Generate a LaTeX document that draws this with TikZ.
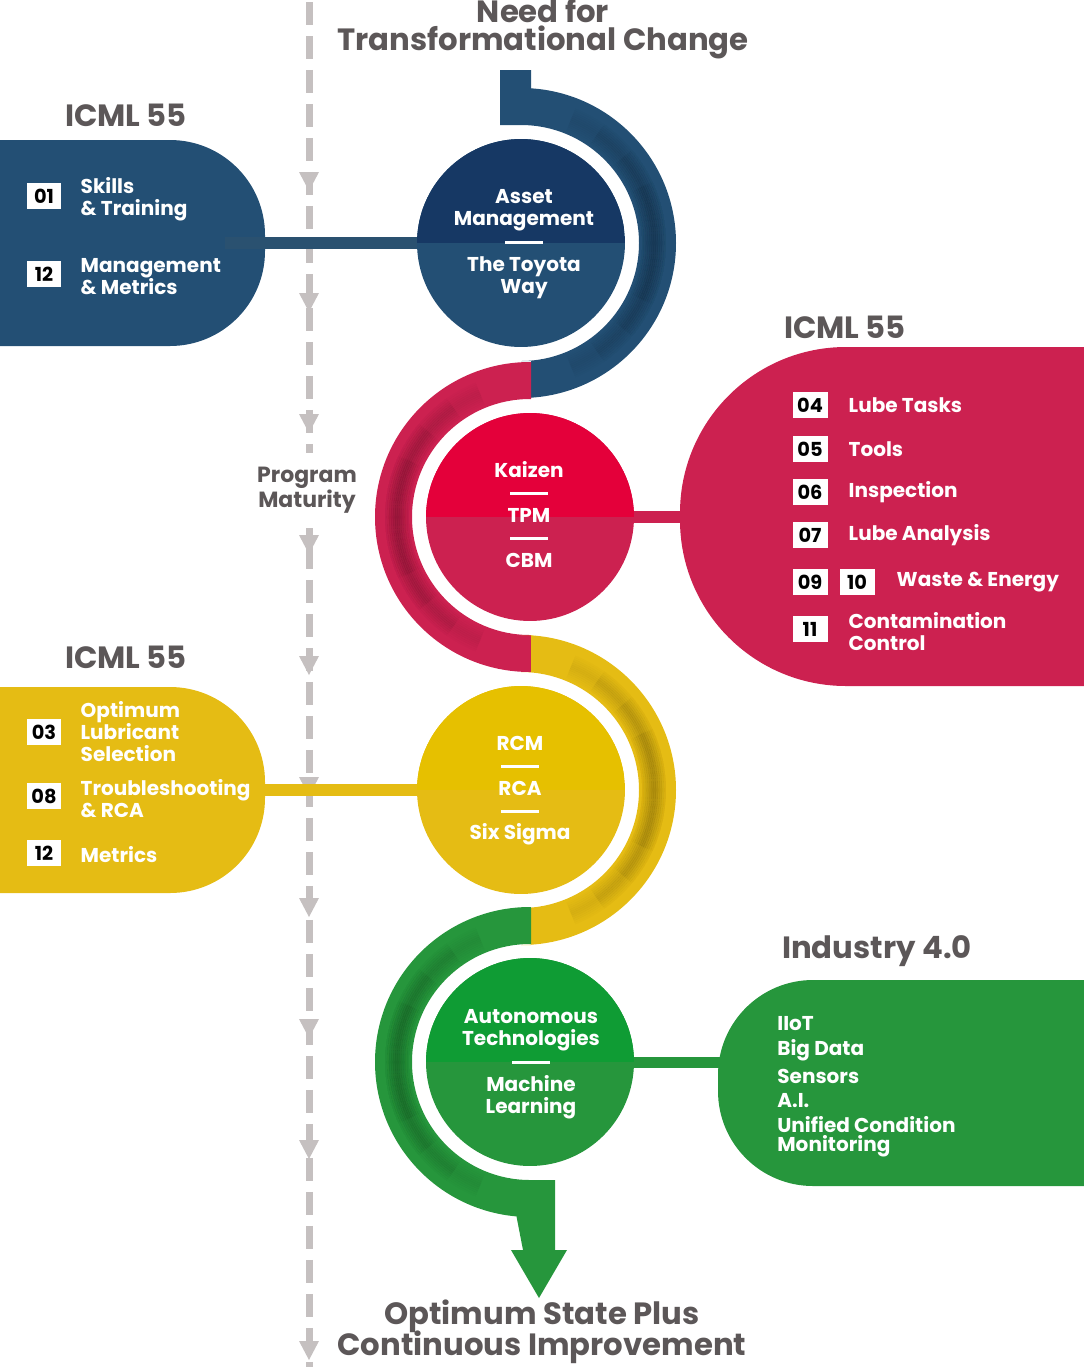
\documentclass[tikz,border=0pt]{standalone}
\usepackage{fontspec}
\setmainfont{Poppins}
\usetikzlibrary{positioning}

\definecolor{greytxt}{RGB}{92,87,88}
\definecolor{dashgrey}{RGB}{197,192,192}
\definecolor{navy}{RGB}{22,56,100}
\definecolor{steel}{RGB}{35,79,116}
\definecolor{steelbar}{RGB}{42,81,112}
\definecolor{kaizen}{RGB}{228,0,58}
\definecolor{crimson}{RGB}{204,33,80}
\definecolor{gold}{RGB}{230,192,0}
\definecolor{mustard}{RGB}{229,188,20}
\definecolor{leaf}{RGB}{15,156,52}
\definecolor{grass}{RGB}{38,150,60}

\tikzset{
  heading/.style={font=\fontsize{17.5}{16}\selectfont\bfseries, text=greytxt, align=center, inner sep=0pt},
  item/.style={anchor=west, font=\fontsize{11.4}{12.5}\selectfont\bfseries, text=white, align=left, inner sep=0pt},
  numbox/.style={fill=white, text=black, minimum width=0.7cm, minimum height=0.52cm, inner sep=0pt, font=\fontsize{11}{11}\selectfont\bfseries},
  disctext/.style={font=\fontsize{11.4}{12.5}\selectfont\bfseries, text=white, align=center, inner sep=0pt},
  disc/.style 2 args={circle, minimum size=4.16cm, inner sep=0pt, fill=#2,
    path picture={\fill[#1] (path picture bounding box.north west) rectangle (path picture bounding box.east);}},
  sepline/.style={white, line width=0.06cm},
  bar/.style={line width=0.25cm},
  bandshadow/.style={black, opacity=#1, line width=0.041cm}
}

\begin{document}
\begin{tikzpicture}[x=0.02cm, y=-0.02cm]
    \useasboundingbox (0,0) rectangle (1084,1367);

    % program maturity line
    \draw[dashgrey, line width=0.14cm, dash pattern=on 0.46cm off 0.22cm] (309,2) -- (309,1367);
    \foreach \t in {191,312,433,554,675,796,917,1038,1159,1360}
        \fill[dashgrey] (299,\t-19) -- (319,\t-19) -- (309,\t) -- cycle;
    \node[heading, fill=white, font=\fontsize{12.5}{11.4}\selectfont\bfseries, minimum height=1.5cm] (maturity) at (307,490) {Program\\Maturity};

    % ICML boxes
    \fill[steel] (0,140) -- (170,140) arc[start angle=-90, end angle=0, radius=95] -- (265,251) arc[start angle=0, end angle=90, radius=95] -- (0,346) -- cycle;
    \fill[crimson] (1084,347) -- (846,347) arc[start angle=-90, end angle=-180, radius=166] -- (680,520) arc[start angle=180, end angle=90, radius=166] -- (1084,686) -- cycle;
    \fill[mustard] (0,687) -- (170,687) arc[start angle=-90, end angle=0, radius=95] -- (265,798) arc[start angle=0, end angle=90, radius=95] -- (0,893) -- cycle;
    \fill[grass] (1084,980) -- (813,980) arc[start angle=-90, end angle=-180, radius=95] -- (718,1091) arc[start angle=180, end angle=90, radius=95] -- (1084,1186) -- cycle;
    \coordinate (bluebox) at (225,243);
    \coordinate (redbox) at (690,517);
    \coordinate (goldbox) at (250,790);
    \coordinate (greenbox) at (730,1062);

    % S-band
    \fill[steel] (500,70) -- (531,70) -- (531,88) -- (521,88) arc[start angle=-90, end angle=90, radius=155] -- (531,398) -- (531,361) -- (521,361) arc[start angle=90, end angle=-90, radius=118] -- (500,125) -- cycle;
    \fill[crimson] (531,362) -- (530,362) arc[start angle=-90, end angle=-270, radius=155] -- (531,672) -- (531,635) -- (530,635) arc[start angle=90, end angle=270, radius=118] -- (531,399) -- cycle;
    \fill[mustard] (531,635) -- (521,635) arc[start angle=-90, end angle=90, radius=155] -- (531,945) -- (531,908) -- (521,908) arc[start angle=90, end angle=-90, radius=118] -- (531,672) -- cycle;
    \fill[grass] (531,907) -- (530,907) arc[start angle=-90, end angle=-265, radius=155] -- (523,1250) -- (511,1250) -- (539,1298) -- (567,1250) -- (555,1250) -- (555,1180) -- (530,1180) arc[start angle=90, end angle=270, radius=118] -- (531,944) -- cycle;
    % soft shadow inside the band
    \foreach \cx/\cy/\a in {521/243/0, 530/517/180, 521/790/0, 530/1062/180}
        \foreach \r in {122,124,...,146} {
            \pgfmathsetmacro\op{0.065*max(0,1-abs(\r-133)/13)}
            \foreach \s in {25,40,55,68}
                \draw[bandshadow=\op] ([shift={(\a-\s:\r)}]\cx,\cy) arc[start angle=\a-\s, end angle=\a+\s, radius=\r];
        }

    % discs
    \node[disc={navy}{steel}] (am) at (521,243) {};
    \node[disc={kaizen}{crimson}] (kz) at (530,517) {};
    \node[disc={gold}{mustard}] (rc) at (521,790) {};
    \node[disc={leaf}{grass}] (tech) at (530,1062) {};

    % connectors
    \draw[bar, steelbar] (bluebox) -- (am.west);
    \draw[bar, crimson] (kz.east) -- (redbox);
    \draw[bar, mustard] (goldbox) -- (rc.west);
    \draw[bar, grass, line width=0.22cm] (tech.east) -- (greenbox);

    % headings
    \node[heading] (need) at (543,29) {Need for\\Transformational Change};
    \node[heading] (icmlA) at (126,115) {ICML 55};
    \node[heading] (icmlB) at (845,327) {ICML 55};
    \node[heading] (icmlC) at (126,657) {ICML 55};
    \node[heading] (industry) at (877,951) {Industry 4.0};
    \node[heading, font={\fontsize{17.5}{17.5}\selectfont\bfseries\lineskiplimit=-20pt}] (optimum) at (542,1332) {Optimum State Plus\\Continuous Improvement};

    % disc texts
    \node[disctext] (asset) at (524,210) {Asset\\Management};
    \draw[sepline] (505,242) -- (543,242);
    \node[disctext] (toyota) at (524,278) {The Toyota\\Way};

    \node[disctext] (kaizen) at (529,470) {Kaizen};
    \draw[sepline] (510,493) -- (548,493);
    \node[disctext] (tpm) at (529,515) {TPM};
    \draw[sepline] (510,538) -- (548,538);
    \node[disctext] (cbm) at (529,560) {CBM};

    \node[disctext] (rcm) at (520,743) {RCM};
    \draw[sepline] (501,766) -- (539,766);
    \node[disctext] (rca) at (520,788) {RCA};
    \draw[sepline] (501,811) -- (539,811);
    \node[disctext] (sigma) at (520,834) {Six Sigma};

    \node[disctext] (autonomous) at (531,1030) {Autonomous\\Technologies};
    \draw[sepline] (512,1062) -- (550,1062);
    \node[disctext] (machine) at (531,1097) {Machine\\Learning};

    % blue items
    \node[numbox] (n01) at (44,196) {01};
    \node[item, right=0.37cm of n01, yshift=-1.7pt] (skills) {Skills\\\& Training};
    \node[numbox] (n12a) at (44,274) {12};
    \node[item, right=0.37cm of n12a, yshift=-1.7pt] (mgmt) {Management\\\& Metrics};

    % red items
    \node[numbox] (n04) at (810,405) {04};
    \node[item, right=0.41cm of n04] (lube) {Lube Tasks};
    \node[numbox] (n05) at (810,449) {05};
    \node[item, right=0.41cm of n05] (tools) {Tools};
    \node[numbox] (n06) at (810,492) {06};
    \node[item, right=0.41cm of n06] (insp) {Inspection};
    \node[numbox] (n07) at (810,535) {07};
    \node[item, right=0.41cm of n07] (analysis) {Lube Analysis};
    \node[numbox] (n09) at (810,582) {09};
    \node[numbox] (n10) at (857,582) {10};
    \node[item, right=0.43cm of n10] (waste) {Waste \& Energy};
    \node[numbox] (n11) at (810,629) {11};
    \node[item, right=0.41cm of n11, yshift=-1.5pt] (contam) {Contamination\\Control};

    % yellow items
    \node[numbox] (n03) at (44,732) {03};
    \node[item, right=0.37cm of n03] (olsel) {Optimum\\Lubricant\\Selection};
    \node[numbox] (n08) at (44,796) {08};
    \node[item, right=0.37cm of n08, yshift=-1.2pt] (trouble) {Troubleshooting\\\& RCA};
    \node[numbox] (n12b) at (44,853) {12};
    \node[item, right=0.37cm of n12b, yshift=-1pt] (metrics) {Metrics};

    % green items
    \node[item] (iiot) at (777,1024) {IIoT};
    \node[item] (bigdata) at (777,1050) {Big Data};
    \node[item] (sensors) at (777,1076) {Sensors};
    \node[item] (ai) at (777,1101) {A.I.};
    \node[item, font=\fontsize{11.4}{10.8}\selectfont\bfseries] (ucm) at (777,1137) {Unified Condition\\Monitoring};
\end{tikzpicture}
\end{document}
